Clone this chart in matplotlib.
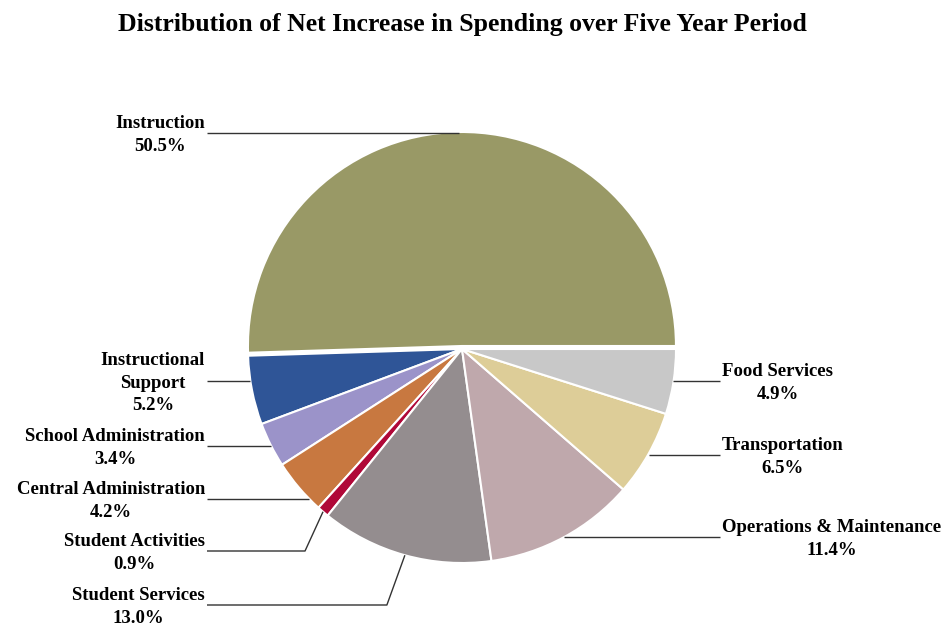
import matplotlib.pyplot as plt
import numpy as np

# spending categories and their share of the net increase (%)
categories = ["Instruction", "Instructional\nSupport", "School Administration",
              "Central Administration", "Student Activities", "Student Services",
              "Operations & Maintenance", "Transportation", "Food Services"]
shares = [50.5, 5.2, 3.4, 4.2, 0.9, 13.0, 11.4, 6.5, 4.9]
colors = ["#999966", "#2F5597", "#9B93C9", "#C87840", "#B00838",
          "#948D8F", "#BFA8AC", "#DDCD98", "#C8C8C8"]

# label placement: (side, y in pixels from top)
label_pos = [("left", 133), ("left", 381), ("left", 446), ("left", 499),
             ("left", 551), ("left", 605), ("right", 537), ("right", 455),
             ("right", 381)]

W, H = 944, 625
fig = plt.figure(figsize=(W / 100, H / 100), dpi=100)
ax = fig.add_axes([0, 0, 1, 1])

cx, cy, r = 462, H - 349, 214
explode = [3] + [0] * (len(shares) - 1)
wedges, _ = ax.pie(shares, colors=colors, startangle=0, counterclock=True,
                   center=(cx, cy), radius=r, explode=explode,
                   wedgeprops=dict(edgecolor="white", linewidth=1.5))
ax.set_xlim(0, W)
ax.set_ylim(0, H)
ax.set_aspect("equal")
ax.axis("off")

font = dict(family="Liberation Serif", weight="bold", size=13.5)
line_kw = dict(color="#333333", lw=1.0, solid_capstyle="butt")

for w, name, val, (side, ypix) in zip(wedges, categories, shares, label_pos):
    wx, wy = w.center
    t1, t2 = w.theta1, w.theta2
    tm = np.deg2rad((t1 + t2) / 2)
    ax_, ay_ = wx + r * np.cos(tm), wy + r * np.sin(tm)
    ly = H - ypix
    sign = -1 if side == "left" else 1
    x_text = 207 if side == "left" else 720

    pts = None
    if abs(ay_ - ly) < 4:
        # mid point of the arc is already level with the label
        pts = [(x_text, ly), (ax_, ly)]
    else:
        # horizontal hit on the wedge edge at the label height, if there is one
        dy = ly - wy
        if abs(dy) < r:
            hx = wx + sign * np.sqrt(r ** 2 - dy ** 2)
            ang = np.rad2deg(np.arctan2(dy, hx - wx)) % 360
            if t1 <= ang <= t2:
                pts = [(x_text, ly), (hx, ly)]
    if pts is None:
        elbow = ax_ + sign * 18
        pts = [(x_text, ly), (elbow, ly), (ax_, ay_)]
    xs, ys = zip(*pts)
    ax.plot(xs, ys, **line_kw)

    label = f"{name}\n{val:.1f}%"
    if side == "left":
        ax.text(x_text - 2, ly - 2, label, ha="right", va="center",
                multialignment="center", linespacing=1.4, **font)
    else:
        ax.text(x_text + 2, ly - 2, label, ha="left", va="center",
                multialignment="center", linespacing=1.4, **font)

ax.text(W / 2 - 10, H - 25, "Distribution of Net Increase in Spending over Five Year Period",
        ha="center", va="center", family="Liberation Serif", weight="bold", size=18.5)

fig.savefig("out.png", dpi=100, facecolor="white")
